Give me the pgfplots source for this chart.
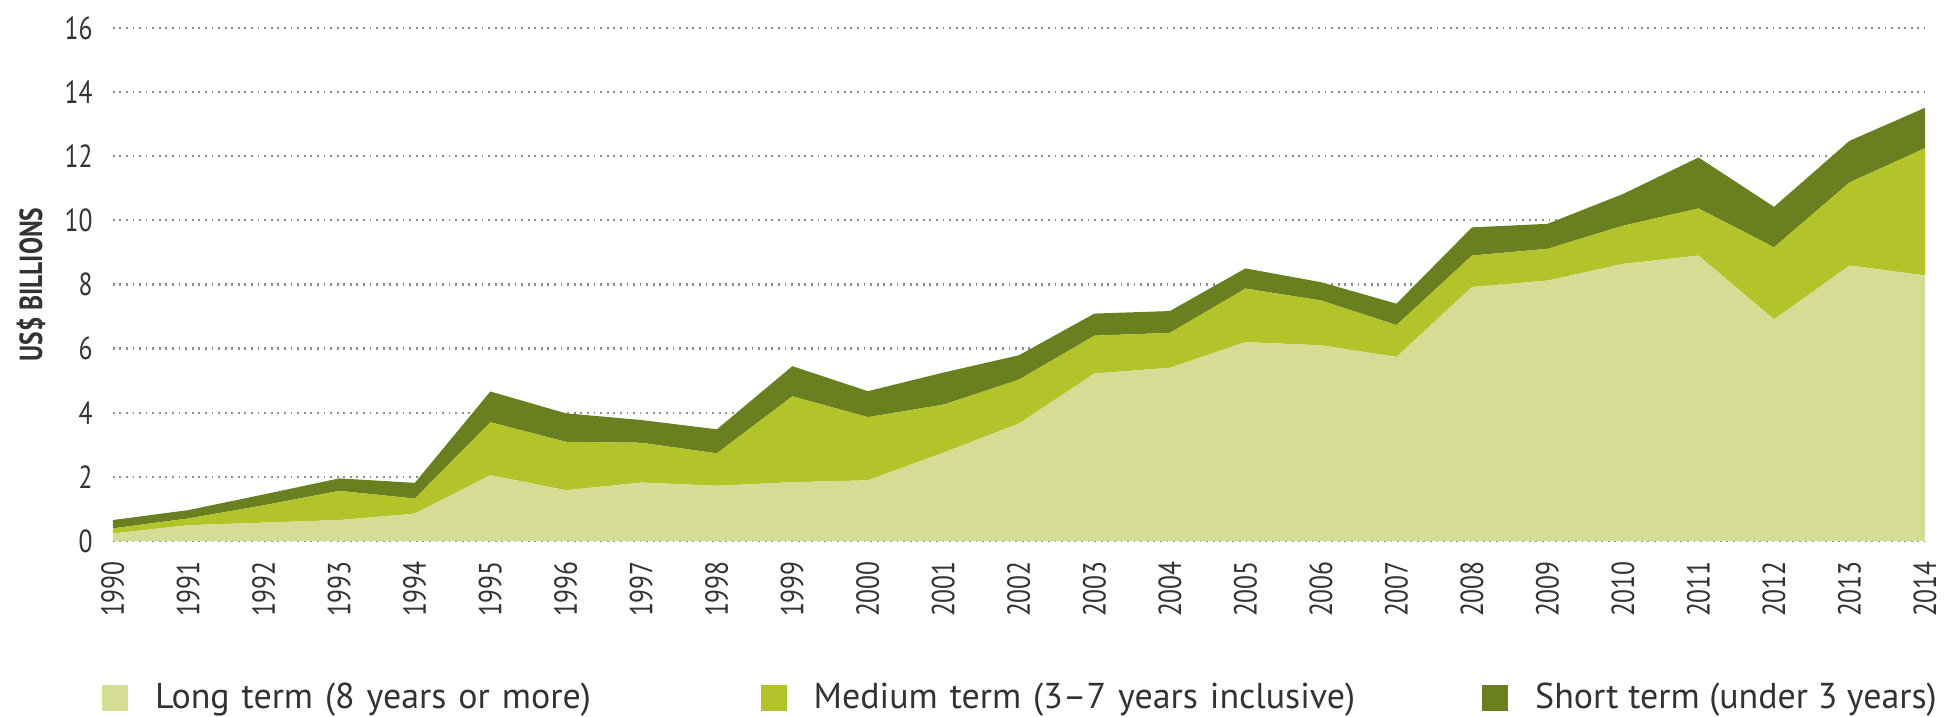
\documentclass[border=0pt]{standalone}
\usepackage{fontspec}
\setmainfont{PT Sans}
\newfontfamily\condfont[FakeStretch=0.8]{PT Sans}
\usepackage{pgfplots}
\usepackage{pgfplotstable}
\pgfplotsset{compat=1.18}
\definecolor{longc}{HTML}{D5DC93}
\definecolor{medc}{HTML}{B3C42B}
\definecolor{shortc}{HTML}{6A8020}
\definecolor{txt}{HTML}{333333}
\definecolor{gridc}{HTML}{8C8C8C}

% US$ billions by term
\pgfplotstableread{
year long med short
1990 0.23 0.16 0.26
1991 0.49 0.21 0.26
1992 0.57 0.54 0.34
1993 0.65 0.91 0.39
1994 0.85 0.47 0.49
1995 2.05 1.65 0.96
1996 1.58 1.51 0.89
1997 1.82 1.24 0.71
1998 1.72 1.01 0.75
1999 1.83 2.68 0.94
2000 1.89 1.97 0.81
2001 2.75 1.50 1.00
2002 3.66 1.37 0.76
2003 5.22 1.18 0.69
2004 5.40 1.09 0.68
2005 6.20 1.67 0.63
2006 6.10 1.40 0.57
2007 5.74 0.99 0.67
2008 7.92 0.98 0.88
2009 8.12 0.99 0.78
2010 8.64 1.19 0.99
2011 8.90 1.47 1.59
2012 6.91 2.25 1.26
2013 8.59 2.59 1.30
2014 8.28 3.97 1.26
}\termdata

\begin{document}
\begin{tikzpicture}
\useasboundingbox (-56.5pt,-88pt) rectangle (917.5pt,271pt);
\begin{axis}[
  scale only axis,
  width=908pt, height=257pt,
  xmin=1990, xmax=2014, ymin=0, ymax=16,
  stack plots=y,
  axis lines*=left,
  axis line style={draw=none},
  xtick={1990,...,2014},
  ytick={0,2,...,16},
  tick align=outside,
  major tick length=10pt,
  tick style={draw=none},
  /pgf/number format/assume math mode=true,
  /pgf/number format/1000 sep={},
  tick label style={font=\condfont\fontsize{16}{16}\selectfont, text=txt, inner sep=0pt},
  xticklabel style={rotate=90, anchor=east},
  ymajorgrids,
  grid style={gridc, line width=1.1pt, dash pattern=on 0.9pt off 2.4pt},
  ylabel={US\$ BILLIONS},
  ylabel style={at={(axis description cs:-0.0452,0.5)}, anchor=center,
    font=\condfont\bfseries\fontsize{16}{16}\selectfont, text=txt},
  legend columns=3,
  legend image code/.code={\fill[#1] (0pt,-6.5pt) rectangle (13pt,6.5pt);},
  legend style={at={(0,0)}, anchor=west, xshift=-5.5pt, yshift=-78.5pt,
    draw=none, fill=none, inner sep=0pt, column sep=13.5pt,
    font=\fontsize{18}{18}\selectfont, text=txt,
    nodes={inner sep=0pt, anchor=west}},
]
\addplot[fill=longc, draw=none] table[x=year, y=long] {\termdata} \closedcycle;
\addlegendentry[text width=290pt, align=left]{Long term (8 years or more)}
\addplot[fill=medc, draw=none] table[x=year, y=med] {\termdata} \closedcycle;
\addlegendentry[text width=321.5pt, align=left]{Medium term (3–7 years inclusive)}
\addplot[fill=shortc, draw=none] table[x=year, y=short] {\termdata} \closedcycle;
\addlegendentry{Short term (under 3 years)}
\draw[black, line width=1pt] (axis cs:1990,0) -- (axis cs:2014,0);
\end{axis}
\end{tikzpicture}
\end{document}
